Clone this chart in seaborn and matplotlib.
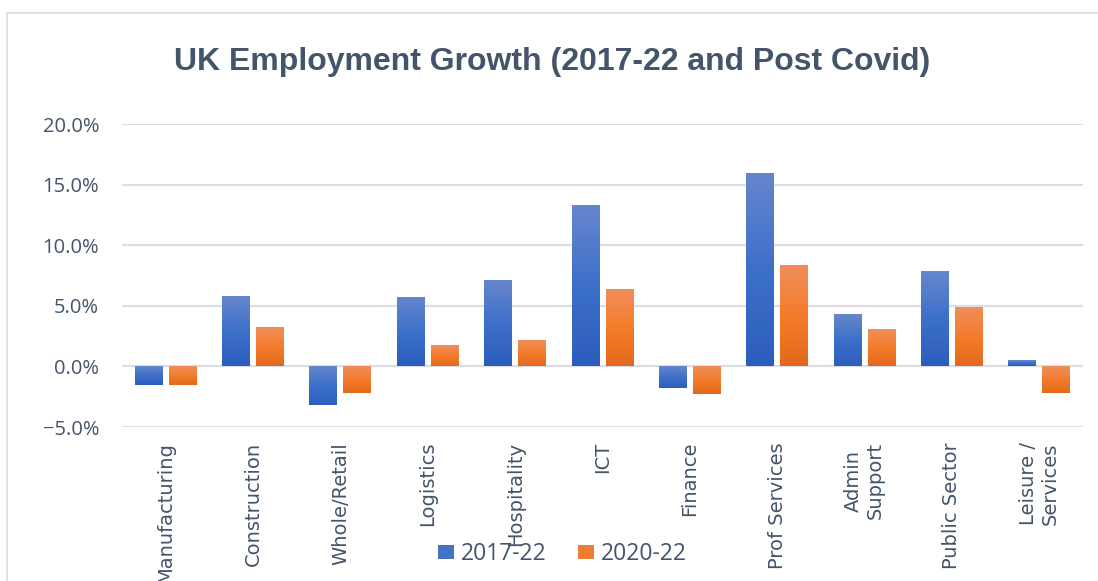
import numpy as np
import pandas as pd
import matplotlib
matplotlib.use("Agg")
import matplotlib.pyplot as plt
import seaborn as sns
from matplotlib.colors import LinearSegmentedColormap, to_rgba
from matplotlib.patches import Rectangle
from matplotlib.ticker import StrMethodFormatter

# Sector employment growth, percent
sectors = ["Manufacturing", "Construction", "Whole/Retail", "Logistics", "Hospitality",
           "ICT", "Finance", "Prof Services", "Admin\nSupport", "Public Sector",
           "Leisure /\nServices"]
growth_2017_22 = [-1.5, 5.75, -3.2, 5.65, 7.05, 13.25, -1.75, 15.9, 4.25, 7.8, 0.45]
growth_2020_22 = [-1.5, 3.2, -2.2, 1.7, 2.1, 6.3, -2.25, 8.3, 3.0, 4.85, -2.2]
periods = ["2017-22", "2020-22"]
y_ticks = [-5, 0, 5, 10, 15, 20]
title = "UK Employment Growth (2017-22 and Post Covid)"

df = pd.DataFrame({"Sector": sectors, periods[0]: growth_2017_22, periods[1]: growth_2020_22})
long_df = df.melt(id_vars="Sector", var_name="Period", value_name="Growth")

base_colors = {periods[0]: "#4472C4", periods[1]: "#ED7D31"}
gradients = {
    periods[0]: ["#6686CE", "#3D70C9", "#2C5DBD"],
    periods[1]: ["#F08E5C", "#F47C2B", "#E2691B"],
}
text_color = "#44546A"

sns.set_theme(style="white")
plt.rcParams["font.family"] = ["Open Sans", "DejaVu Sans"]

fig = plt.figure(figsize=(10.98, 5.81), dpi=100)
ax = fig.add_axes([122 / 1098, 1 - 427 / 581, (1083 - 122) / 1098, (427 - 124) / 581])

sns.barplot(data=long_df, x="Sector", y="Growth", hue="Period", hue_order=periods,
            palette=base_colors, width=0.778, gap=0.177, legend=False, ax=ax,
            saturation=1, edgecolor="none", linewidth=0)

# Vertical gradient fill for each bar (lighter at the top)
color_to_period = {to_rgba(c)[:3]: p for p, c in base_colors.items()}
grad = np.linspace(0, 1, 256).reshape(-1, 1)
for patch in list(ax.patches):
    fc = tuple(np.round(patch.get_facecolor()[:3], 4))
    period = None
    for rgb, p in color_to_period.items():
        if np.allclose(fc, rgb, atol=0.01):
            period = p
    if period is None:
        continue
    x0, y0 = patch.get_x(), patch.get_y()
    w, h = patch.get_width(), patch.get_height()
    lo, hi = min(y0, y0 + h), max(y0, y0 + h)
    cmap = LinearSegmentedColormap.from_list(period, gradients[period])
    ax.imshow(grad, cmap=cmap, extent=(x0, x0 + w, lo, hi), origin="upper",
              aspect="auto", interpolation="bilinear", zorder=2)
    patch.set_visible(False)

ax.set_xlim(-0.5, len(sectors) - 0.5)
ax.set_ylim(y_ticks[0], y_ticks[-1])
ax.set_yticks(y_ticks)
ax.yaxis.set_major_formatter(StrMethodFormatter("{x:.1f}%"))
ax.set_xlabel("")
ax.set_ylabel("")
ax.set_axisbelow(True)
ax.yaxis.grid(True, color="#DCDEE3", linewidth=1.6)
ax.xaxis.grid(False)
for s in ax.spines.values():
    s.set_visible(False)

ax.tick_params(axis="y", length=0, pad=16.5, labelsize=14.5, labelcolor=text_color)
ax.tick_params(axis="x", length=0, pad=10.8, labelrotation=90, labelcolor=text_color)
for lbl in ax.get_xticklabels():
    lbl.set_fontfamily("DejaVu Sans")
    lbl.set_fontsize(14)
    lbl.set_horizontalalignment("center")
    lbl.set_verticalalignment("top")
    lbl.set_multialignment("center")

fig.text(552.5 / 1098, 1 - 70 / 581, title, ha="center", va="baseline",
         fontsize=23, fontweight="bold", color=text_color, family="Liberation Sans")

handles = [Rectangle((0, 0), 1, 1, facecolor=base_colors[p], edgecolor="none") for p in periods]
fig.legend(handles, periods, loc="center", bbox_to_anchor=(562.5 / 1098, 1 - 554 / 581),
           ncol=2, frameon=False, fontsize=16.5, labelcolor=text_color,
           handlelength=0.7, handleheight=0.6, handletextpad=0.3, columnspacing=1.4,
           borderpad=0, borderaxespad=0)

# Light frame around the chart area
fig.add_artist(Rectangle((7.3 / 1098, -0.2), 1.2, 1.2 - 13.3 / 581,
                         transform=fig.transFigure, fill=False,
                         edgecolor="#DCDFE5", linewidth=1.3))

fig.savefig("out.png", dpi=100, facecolor="white")
